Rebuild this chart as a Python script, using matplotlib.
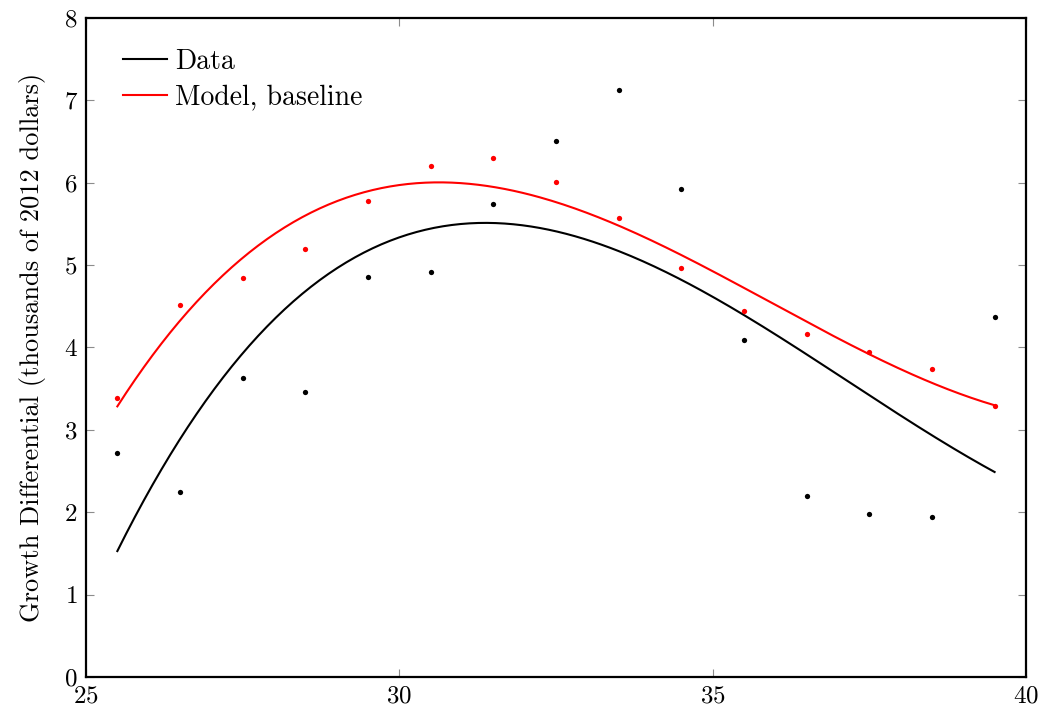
import numpy as np
import matplotlib
matplotlib.use("Agg")
import matplotlib.pyplot as plt

# Age groups (midpoints) and growth differentials
age = [25.5, 26.5, 27.5, 28.5, 29.5, 30.5, 31.5, 32.5, 33.5, 34.5,
       35.5, 36.5, 37.5, 38.5, 39.5]
data_pts = [2.72, 2.25, 3.63, 3.46, 4.86, 4.92, 5.74, 6.51, 7.13, 5.92,
            4.09, 2.20, 1.975, 1.94, 4.37]
model_pts = [3.39, 4.51, 4.84, 5.20, 5.78, 6.20, 6.30, 6.01, 5.57, 4.96,
             4.44, 4.16, 3.95, 3.735, 3.29]

series_labels = ["Data", "Model, baseline"]
series_colors = ["black", "red"]

x_ticks = [25, 30, 35, 40]
y_ticks = [0, 1, 2, 3, 4, 5, 6, 7, 8]
ylabel = "Growth Differential (thousands of 2012 dollars)"

plt.rcParams["font.family"] = "cmr10"
plt.rcParams["mathtext.fontset"] = "cm"
plt.rcParams["axes.formatter.use_mathtext"] = True

fig = plt.figure(figsize=(10.49, 7.15), dpi=100)
ax = fig.add_axes([0.082, 0.053, 0.896, 0.922])

xs = np.array(age)
xfine = np.linspace(xs.min(), xs.max(), 300)
for pts, lab, col in zip([data_pts, model_pts], series_labels, series_colors):
    ys = np.array(pts)
    # smooth trend: cubic least-squares fit through the points
    coef = np.polyfit(xs, ys, 3)
    ax.plot(xfine, np.polyval(coef, xfine), color=col, lw=1.5, label=lab)
    ax.plot(xs, ys, "o", color=col, ms=3.8, mew=0)

ax.set_xlim(25, 40)
ax.set_ylim(0, 8)
ax.set_xticks(x_ticks)
ax.set_yticks(y_ticks)
ax.tick_params(direction="in", length=6, width=0.8, color="0.55",
               top=True, right=True, labelsize=18, pad=6)
for s in ax.spines.values():
    s.set_linewidth(1.6)
ax.set_ylabel(ylabel, fontsize=19, labelpad=13)

ax.legend(loc="upper left", bbox_to_anchor=(0.0065, 1.0), frameon=False,
          fontsize=20, handlelength=1.6, handletextpad=0.3,
          borderaxespad=0.7, labelspacing=0.35)

fig.savefig("out.png", dpi=100)
